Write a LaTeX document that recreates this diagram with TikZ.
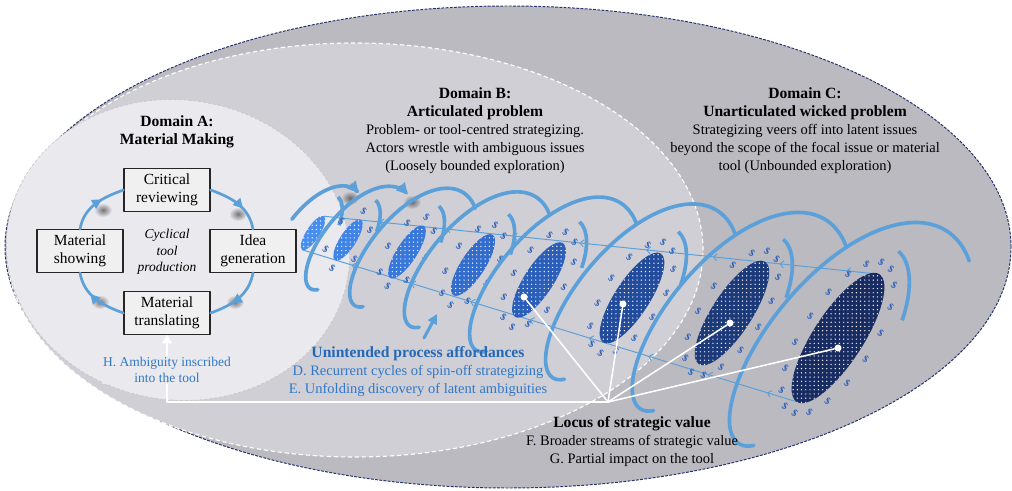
\documentclass[tikz,border=0pt]{standalone}
\usepackage{fontspec}
\setmainfont{Liberation Serif}
\usetikzlibrary{shapes.geometric, arrows.meta, positioning, calc, decorations.markings, patterns, fadings}
\definecolor{domC}{RGB}{187,186,192}
\definecolor{domB}{RGB}{208,207,213}
\definecolor{domA}{RGB}{234,233,238}
\definecolor{rimNavy}{RGB}{35,52,110}
\definecolor{coilBlue}{RGB}{92,160,218}
\definecolor{labelBlue}{RGB}{48,120,200}
\definecolor{labelBlueDark}{RGB}{36,104,184}
\definecolor{glyphBlue}{RGB}{45,95,185}
\definecolor{disk1}{RGB}{72,142,240}
\definecolor{disk2}{RGB}{64,132,232}
\definecolor{disk3}{RGB}{56,120,220}
\definecolor{disk4}{RGB}{50,108,205}
\definecolor{disk5}{RGB}{42,94,185}
\definecolor{disk6}{RGB}{34,76,155}
\definecolor{disk7}{RGB}{28,58,122}
\definecolor{disk8}{RGB}{24,44,98}
\tikzfading[name=softsmudge, inner color=transparent!50, outer color=transparent!100]
\pgfdeclarelayer{domains}
\pgfdeclarelayer{behind}
\pgfsetlayers{domains,behind,main}
\newcommand{\domhead}[1]{{\bfseries\fontsize{11.1}{12.8}\selectfont #1}}
\tikzset{
    valuemap/.style={line cap=round, line join=round,
                     font=\fontsize{10.3}{12.8}\selectfont},
    stagebox/.style={draw=black!85, line width=0.9pt, fill=white!94!black,
                     minimum width=2.15cm, minimum height=1.06cm, align=center,
                     inner sep=1pt, font=\fontsize{11}{12.8}\selectfont},
    cyclearc/.style={draw=coilBlue, line width=1.9pt,
                     postaction={decorate, decoration={markings,
                     mark=at position 0.62 with {\arrow{Triangle[length=7pt, width=7pt]}}}}},
    coil/.style={draw=coilBlue, line width=2.6pt},
    coiltip/.style={coil, -{Triangle[length=8pt, width=8pt]}},
    tube/.style={draw=coilBlue, line width=0.7pt,
                 postaction={decorate, decoration={markings,
                 mark=between positions 0.06 and 0.98 step 0.12 with
                 {\arrow{Straight Barb[length=2.5pt, width=5pt]}}}}},
    disk/.style={ellipse, inner sep=0pt, outer sep=0pt, rotate=57,
                 postaction={pattern=dots, pattern color=white}},
    glyph/.style={text=glyphBlue, font=\bfseries\fontsize{7}{7}\selectfont,
                  inner sep=0pt, rotate=-35},
    smudge/.style={black, path fading=softsmudge},
    heading/.style={align=center},
    bluetext/.style={align=center, text=labelBlue},
    valuelink/.style={draw=white, line width=1.1pt},
    valuedot/.style={circle, fill=white, inner sep=0pt, minimum size=5pt},
}

\begin{document}
\begin{tikzpicture}[valuemap, x=0.025cm, y=0.025cm,
    declare function={
        cxf(\x)=313+35*\x+5.7*\x*\x;
        cyf(\x)=233+6*\x+1.3*\x*\x;
        ra(\x)=1.4*(19+5.5*\x+0.4*\x*\x)+27;
        hx(\x)=cxf(\x)+ra(\x)*sin(360*\x)*0.545-0.47*ra(\x)*cos(360*\x)*0.839;
        hy(\x)=-cyf(\x)+ra(\x)*sin(360*\x)*0.839+0.47*ra(\x)*cos(360*\x)*0.545;
    }]
\useasboundingbox (0,0) rectangle (1012,-491);

% --- the three domains ---
\begin{pgfonlayer}{domains}
\fill[domC] (508,-247) ellipse [x radius=503, y radius=241];
\draw[rimNavy, line width=0.7pt, dash pattern=on 2pt off 1pt]
    (508,-247) ellipse [x radius=503, y radius=241];
\fill[domB] (355,-250) ellipse [x radius=348, y radius=207];
\draw[white, line width=0.8pt, dash pattern=on 3pt off 2pt]
    (355,-250) ellipse [x radius=348, y radius=207];
\fill[domA, rotate around={-8:(178,-250)}] (178,-250) ellipse [x radius=172, y radius=150];
\draw[black!22, line width=0.5pt, dash pattern=on 2pt off 1.5pt, rotate around={-8:(178,-250)}]
    (178,-250) ellipse [x radius=172, y radius=150];
\end{pgfonlayer}

% --- domain A: cyclical tool production ---
\node[stagebox] (crit)  at (167,-190) {Critical\\reviewing};
\node[stagebox] (show)  at (80,-251)  {Material\\showing};
\node[stagebox] (idea)  at (253,-251) {Idea\\generation};
\node[stagebox] (trans) at (167,-313) {Material\\translating};
\node[align=center, font=\itshape\fontsize{9.6}{11.7}\selectfont] (cycle) at (167,-252)
    {Cyclical\\tool\\production};

\draw[cyclearc] (crit.east)  to[out=-20, in=100]  (idea.north);
\draw[cyclearc] (idea.south) to[out=-100, in=20]  (trans.east);
\draw[cyclearc] (trans.west) to[out=160, in=-80]  (show.south);
\draw[cyclearc] (show.north) to[out=80, in=-160]  (crit.west);

% --- headings ---
\node[heading] (domA) at (177,-132) {\domhead{Domain A:}\\\domhead{Material Making}};
\node[heading] (domB) at (475,-131)
    {\domhead{Domain B:}\\\domhead{Articulated problem}\\
     Problem- or tool-centred strategizing.\\
     Actors wrestle with ambiguous issues\\
     (Loosely bounded exploration)};
\node[heading] (domC) at (805,-131)
    {\domhead{Domain C:}\\\domhead{Unarticulated wicked problem}\\
     Strategizing veers off into latent issues\\
     beyond the scope of the focal issue or material\\
     tool (Unbounded exploration)};

% --- disks of strategizing ---
\foreach \k/\x/\y/\w/\h in {1/313/233/1.0/0.33, 2/348/240/1.2/0.4, 3/407/252/1.55/0.5,
        4/473/265/1.8/0.6, 5/539/280/2.2/0.73, 6/632/298/2.65/0.87,
        7/732/313/3.05/1.0, 8/838/338/3.8/1.25}
    \node[disk, fill=disk\k, minimum width=\w cm, minimum height=\h cm] (d\k) at (\x,-\y) {};

\foreach \k/\x/\y/\ra/\rb/\n in {2/348/240/33/17/6, 3/407/252/40/19/8, 4/473/265/46/22/10,
        5/539/280/55/25/12, 6/632/298/64/28/14, 7/732/313/72/30/15, 8/838/338/88/35/18}{
    \begin{scope}[shift={(\x,-\y)}, rotate=57]
        \foreach \g in {1,...,\n}
            \node[glyph] (g\k-\g) at ({\ra*cos(360*\g/\n+8)},{\rb*sin(360*\g/\n+8)}) {\$};
    \end{scope}
}

% tube, shadows and the back of the spiral
\begin{pgfonlayer}{behind}
\draw[tube] (d8.east) -- (d1.east);
\draw[tube] (d8.west) -- (d1.west);
\foreach \x/\y in {103/210, 238/214, 235/302, 100/302, 350/198, 412/202}
    \fill[smudge] (\x,-\y) ellipse [x radius=9, y radius=7];
\foreach \x/\y/\ra/\rb in {313/233/44/20, 348/240/48.5/22, 407/252/56/26,
        473/265/62/29, 539/280/71/33, 632/298/81/38, 732/313/90/42, 838/338/106/50}{
    \begin{scope}[shift={(\x,-\y)}, rotate=57]
        \draw[coil] ({\ra*cos(-4)},{\rb*sin(-4)})
            arc[start angle=-4, end angle=-62, x radius=\ra, y radius=\rb];
    \end{scope}
}
\end{pgfonlayer}

% front of the spiral
\draw[coiltip] plot[domain=0:0.29, samples=30, smooth] ({hx(\x)},{hy(\x)});
\draw[coiltip] plot[domain=0.694:1.29, samples=40, smooth] ({hx(\x)},{hy(\x)});
\foreach \j in {2,...,7}{
    \pgfmathsetmacro\fs{\j-0.306}
    \pgfmathsetmacro\fe{\j+0.33}
    \draw[coil] plot[domain=\fs:\fe, samples=50, smooth] ({hx(\x)},{hy(\x)});
}

% --- unintended affordances ---
\node[bluetext] (afford) at (418,-372)
    {{\color{labelBlueDark}\domhead{Unintended process affordances}}\\
     D. Recurrent cycles of spin-off strategizing\\
     E. Unfolding discovery of latent ambiguities};
\coordinate (affbase) at (424,-338);
\coordinate (afftip) at (437,-314);
\draw[coil, line width=2.2pt, -{Triangle[length=7pt, width=7pt]}] (affbase) -- (afftip);

% --- locus of strategic value ---
\coordinate (hub) at (608,-402);
\node[valuedot] (v5) at (524,-297) {};
\node[valuedot] (v6) at (623,-304) {};
\node[valuedot] (v7) at (730,-323) {};
\node[valuedot] (v8) at (838,-348) {};
\foreach \v in {v5,v6,v7,v8}
    \draw[valuelink] (hub) -- (\v);
\draw[valuelink, -{Triangle[length=6pt, width=7pt]}] (hub) -| (trans.south);

\node[bluetext, fill=domA, inner sep=1pt, font=\fontsize{9.6}{11.2}\selectfont] (inscribe)
    at (167,-370) {H. Ambiguity inscribed\\into the tool};
\node[heading] (locus) at (632,-441.5)
    {\domhead{Locus of strategic value}\\
     F. Broader streams of strategic value\\
     G. Partial impact on the tool};

\end{tikzpicture}
\end{document}
